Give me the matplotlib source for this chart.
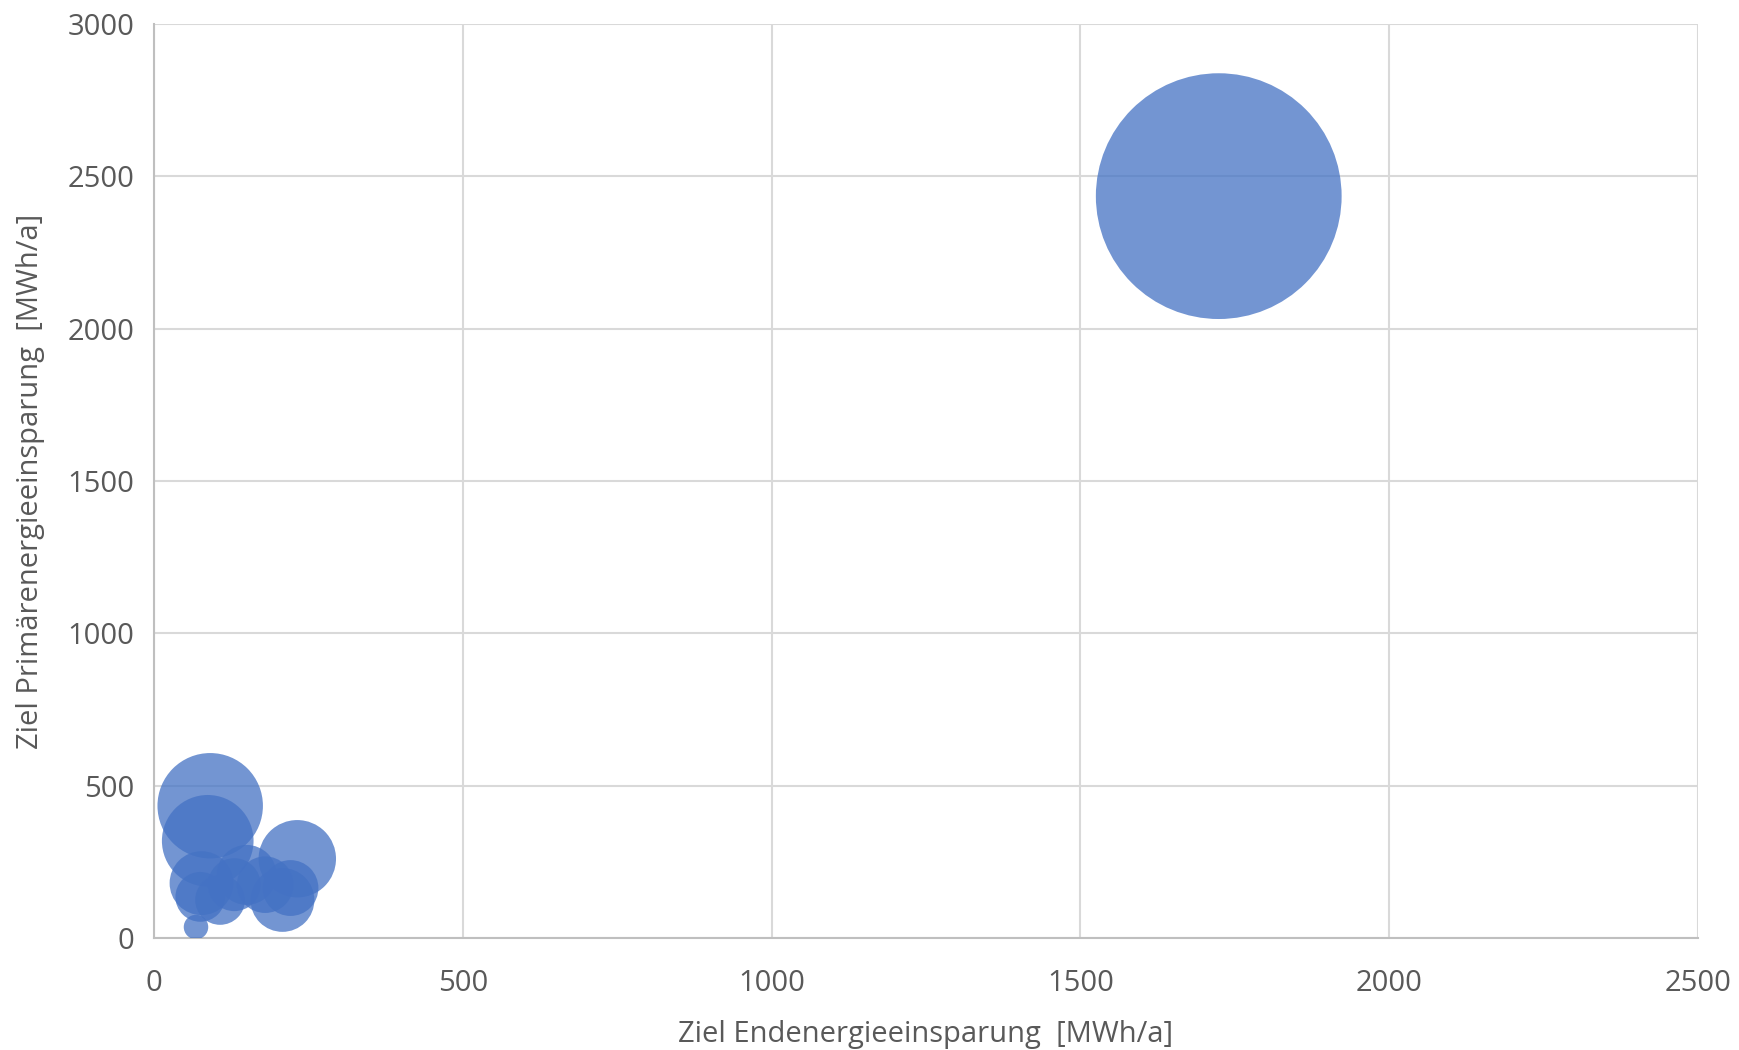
import matplotlib
matplotlib.use("Agg")
import matplotlib.pyplot as plt
import numpy as np

# Data
end_savings = [1724, 91, 87, 232, 77, 75, 68, 150, 107, 208, 221, 130, 180]
primary_savings = [2435, 434, 319, 260, 180, 135, 36, 207, 125, 125, 164, 175, 175]
bubble_size = [15100, 2780, 2100, 1500, 1020, 620, 150, 900, 620, 1020, 780, 700, 800]

xticks = [0, 500, 1000, 1500, 2000, 2500]
yticks = [0, 500, 1000, 1500, 2000, 2500, 3000]

plt.rcParams['font.family'] = ['Open Sans', 'DejaVu Sans']

W, H, DPI = 1739, 1050, 100
fig = plt.figure(figsize=(W / DPI, H / DPI), dpi=DPI)
ax = fig.add_axes([154 / W, 1 - 938 / H, (1698 - 154) / W, (938 - 24) / H])

# bubble size -> radius in pixels = sqrt(size); marker area in pt^2
sizes_pt2 = [(2 * np.sqrt(s) * 72 / DPI) ** 2 for s in bubble_size]
ax.scatter(end_savings, primary_savings, s=sizes_pt2, color='#4472C4',
           alpha=0.75, edgecolors='none', zorder=3)

ax.set_xlim(0, 2500)
ax.set_ylim(0, 3000)
ax.set_xticks(xticks)
ax.set_yticks(yticks)
ax.grid(True, color='#D9D9D9', linewidth=1.5, zorder=0)
for side in ['top', 'right']:
    ax.spines[side].set_visible(False)
for side in ['left', 'bottom']:
    ax.spines[side].set_color('#BFBFBF')
    ax.spines[side].set_linewidth(1.5)
ax.tick_params(length=0, labelsize=21, colors='#595959')
ax.tick_params(axis='x', pad=22)
ax.tick_params(axis='y', pad=14)

ax.set_xlabel('Ziel Endenergieeinsparung  [MWh/a]', fontsize=21, color='#595959', labelpad=16)
ax.set_ylabel('Ziel Primärenergieeinsparung  [MWh/a]', fontsize=21, color='#595959', labelpad=16)

fig.savefig('out.png', dpi=DPI, facecolor='white')
